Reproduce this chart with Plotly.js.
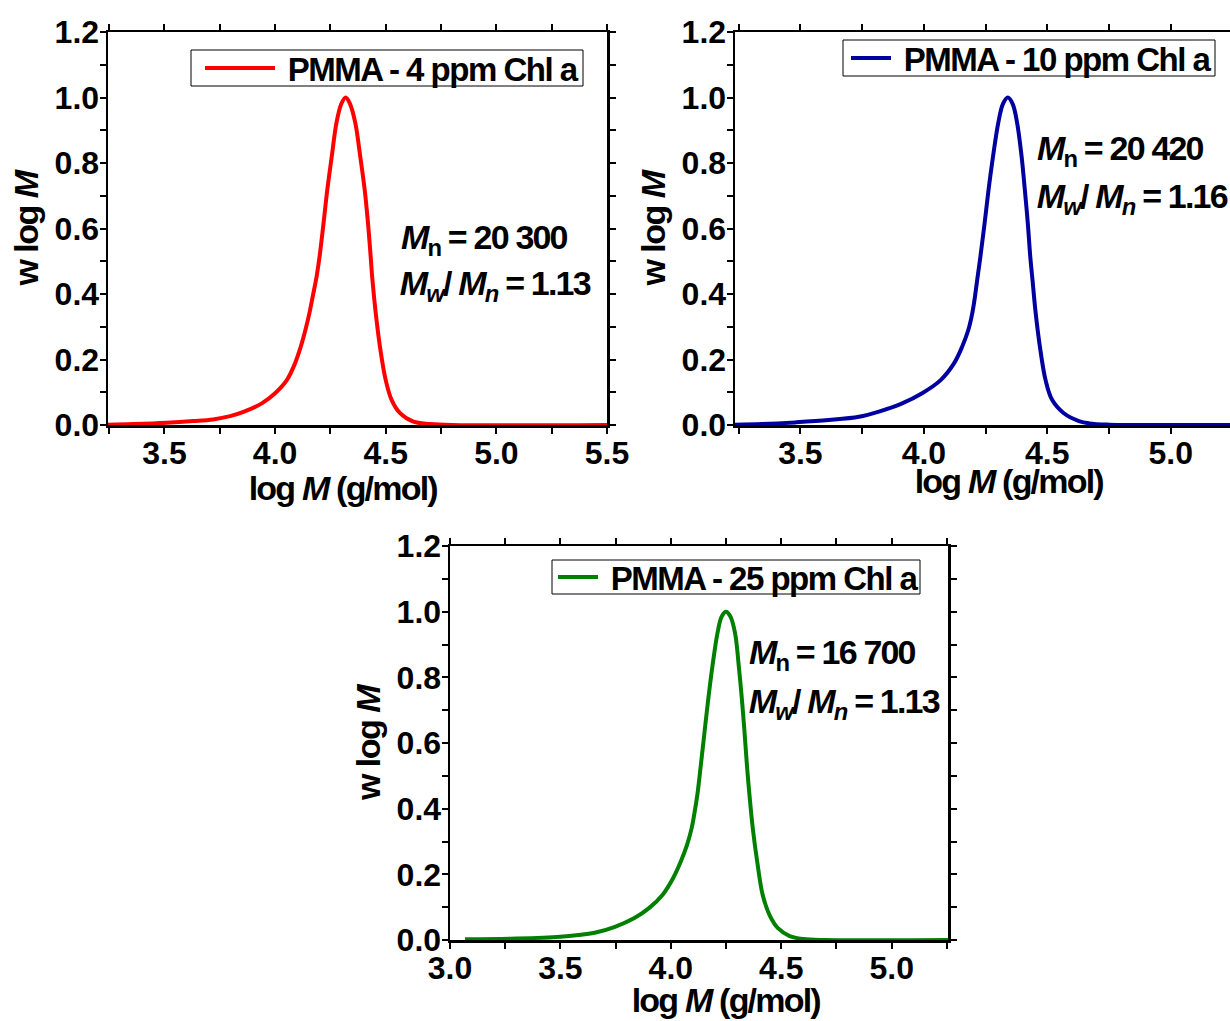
<!DOCTYPE html>
<html>
<head>
<meta charset="utf-8">
<script src="https://cdn.plot.ly/plotly-3.0.1.min.js"></script>
<style>
html,body{margin:0;padding:0;background:#fff;}
#chart{width:1230px;height:1021px;}
#chart text.legendtext{letter-spacing:-1.5px !important;}
#chart g[class*="legend"] text{letter-spacing:-1.5px !important;}
#chart text.annotation-text{letter-spacing:-1.8px !important;}
#chart .ytitle, #chart .y2title, #chart .y3title{letter-spacing:-1.5px;}
</style>
</head>
<body>
<div id="chart"></div>
<script>
// ---- data ----
const seriesNames = ["PMMA - 4 ppm Chl a", "PMMA - 10 ppm Chl a", "PMMA - 25 ppm Chl a"];
const seriesColors = ["#ff0000", "#0000a0", "#008000"];

const red_logM = [3.245,3.36,3.51,3.63,3.72,3.797,3.857,3.94,4.0,4.053,4.09,4.116,4.137,4.155,4.17,4.185,4.201,4.219,4.236,4.256,4.277,4.299,4.319,4.339,4.363,4.385,4.405,4.42,4.432,4.44,4.455,4.474,4.50,4.527,4.565,4.625,4.70,4.8,5.5];
const red_w    = [0.001,0.003,0.007,0.012,0.017,0.027,0.04,0.066,0.097,0.137,0.188,0.239,0.29,0.341,0.392,0.443,0.514,0.616,0.718,0.819,0.921,0.98,1.0,0.98,0.921,0.819,0.718,0.616,0.514,0.443,0.341,0.239,0.137,0.076,0.036,0.01,0.003,0.0,0.0];

const blue_logM = [3.235,3.345,3.48,3.615,3.737,3.818,3.912,3.993,4.068,4.122,4.155,4.18,4.196,4.207,4.216,4.229,4.246,4.262,4.28,4.301,4.32,4.34,4.36,4.378,4.396,4.409,4.421,4.431,4.44,4.453,4.47,4.493,4.52,4.567,4.628,4.67,4.75,4.85,5.24];
const blue_w    = [0.001,0.003,0.008,0.015,0.025,0.041,0.066,0.097,0.137,0.188,0.239,0.29,0.341,0.392,0.443,0.514,0.616,0.718,0.819,0.921,0.98,1.0,0.98,0.921,0.819,0.718,0.616,0.514,0.443,0.341,0.239,0.137,0.076,0.036,0.012,0.005,0.001,0.0,0.0];

const green_logM = [3.068,3.273,3.5,3.655,3.75,3.833,3.901,3.962,4.01,4.045,4.073,4.094,4.108,4.12,4.135,4.152,4.169,4.188,4.211,4.23,4.25,4.27,4.291,4.308,4.322,4.334,4.345,4.356,4.371,4.391,4.416,4.447,4.485,4.538,4.6,4.7,5.255];
const green_w    = [0.002,0.004,0.01,0.022,0.041,0.066,0.097,0.137,0.188,0.239,0.289,0.34,0.391,0.442,0.528,0.63,0.731,0.832,0.934,0.985,1.0,0.985,0.934,0.832,0.731,0.63,0.528,0.442,0.34,0.239,0.137,0.076,0.036,0.012,0.003,0.0,0.0];

const MnLabels = ["20 300", "20 420", "16 700"];
const PDILabels = ["1.13", "1.16", "1.13"];
const xTitle = "log <i>M</i> (g/mol)";
const yTitle = "w log <i>M</i>";
const xRanges = [[3.245, 5.5], [3.235, 5.24], [3.0, 5.255]];
const yRange = [0, 1.2];

// ---- layout helpers ----
const W = 1230, H = 1021;
const px = v => v / W;
const py = v => 1 - v / H;
const FONT = "Liberation Sans, Arial, sans-serif";

// panel frames (pixels): left, right, top, bottom
const frames = [[108, 607, 32, 425], [735, 1230, 32, 425], [450, 948, 546, 940]];
const legendBoxes = [[191, 583, 50, 86], [843, 1215, 40, 76], [552, 920, 560, 594]];
const legendX = [200, 846, 553];
const legendItemWidth = [70, 40, 40];
// annotation anchors: [x line1, y line1, x line2, y line2] (x compensates condensed text)
const annPos = [[389, 239, 386, 286], [1025, 150, 1023, 198], [737, 654, 735, 703]];
const xTitlePos = [[343, 488], [1009, 481], [726, 1000]];

const xs = [red_logM, blue_logM, green_logM];
const ys = [red_w, blue_w, green_w];

const data = [];
for (let i = 0; i < 3; i++) {
  data.push({
    x: xs[i], y: ys[i], type: "scatter", mode: "lines",
    name: "<b>\u00a0" + seriesNames[i] + "</b>",
    line: {color: seriesColors[i], width: 4, shape: "spline", smoothing: 1},
    xaxis: i === 0 ? "x" : "x" + (i + 1),
    yaxis: i === 0 ? "y" : "y" + (i + 1),
    legend: i === 0 ? "legend" : "legend" + (i + 1),
    showlegend: true
  });
}

const layout = {
  width: W, height: H,
  margin: {l: 0, r: 0, t: 0, b: 0, autoexpand: false},
  paper_bgcolor: "#fff", plot_bgcolor: "#fff",
  font: {family: FONT, color: "#000", size: 32},
  annotations: [], shapes: []
};

for (let i = 0; i < 3; i++) {
  const f = frames[i];
  const sx = i === 0 ? "" : String(i + 1);
  const axCommon = {
    showline: true, linecolor: "#000", linewidth: 2.5, mirror: "allticks",
    ticks: "outside", ticklen: 6, tickwidth: 2, tickcolor: "#000",
    showgrid: false, zeroline: false, automargin: false,
    tickfont: {family: FONT, size: 32, color: "#000", weight: "bold"},
    minor: {ticks: "outside", ticklen: 6, tickwidth: 2, tickcolor: "#000", showgrid: false}
  };
  layout["xaxis" + sx] = Object.assign({}, axCommon, {
    domain: [px(f[0]), px(f[1])],
    anchor: "y" + sx,
    range: xRanges[i],
    dtick: 0.5, tick0: 0, tickformat: ".1f",
    ticklabelstandoff: -8,
    minor: Object.assign({}, axCommon.minor, {dtick: 0.25})
  });
  layout["yaxis" + sx] = Object.assign({}, axCommon, {
    domain: [py(f[3]), py(f[2])],
    anchor: "x" + sx,
    range: yRange,
    dtick: 0.2, tick0: 0, tickformat: ".1f",
    ticklabelstandoff: -6,
    minor: Object.assign({}, axCommon.minor, {dtick: 0.1}),
    title: {text: "<b>" + yTitle + "</b>", font: {family: FONT, size: 34, color: "#000"}, standoff: 6}
  });
  // x-axis title (placed where the reference draws it)
  layout.annotations.push({
    xref: "paper", yref: "paper", x: px(xTitlePos[i][0]), y: py(xTitlePos[i][1]),
    xanchor: "center", yanchor: "middle", showarrow: false,
    text: "<b>" + xTitle + "</b>",
    font: {family: FONT, size: 34, color: "#000"}
  });
  // legend with a thin frame drawn as a box
  const b = legendBoxes[i];
  layout.shapes.push({
    type: "rect", xref: "paper", yref: "paper", layer: "above",
    x0: px(b[0]), x1: px(b[1]), y0: py(b[3]), y1: py(b[2]),
    line: {color: "#000", width: 1}, fillcolor: "#fff"
  });
  const lgKey = i === 0 ? "legend" : "legend" + (i + 1);
  layout[lgKey] = {
    x: px(legendX[i]), y: py((b[2] + b[3]) / 2), xanchor: "left", yanchor: "middle",
    bgcolor: "rgba(0,0,0,0)", borderwidth: 0,
    font: {family: FONT, size: 33, color: "#000"},
    itemwidth: legendItemWidth[i], tracegroupgap: 0
  };
}

for (let i = 0; i < 3; i++) {
  layout.annotations.push({
    xref: "paper", yref: "paper", x: px(annPos[i][0]), y: py(annPos[i][1]),
    xanchor: "left", yanchor: "middle", showarrow: false,
    text: "<b><i>M</i><sub>n</sub> = " + MnLabels[i] + "</b>",
    font: {family: FONT, size: 34, color: "#000"}
  });
  layout.annotations.push({
    xref: "paper", yref: "paper", x: px(annPos[i][2]), y: py(annPos[i][3]),
    xanchor: "left", yanchor: "middle", showarrow: false,
    text: "<b><i>M</i><sub><i>w</i></sub>/ <i>M</i><sub><i>n</i></sub> = " + PDILabels[i] + "</b>",
    font: {family: FONT, size: 34, color: "#000"}
  });
}

Plotly.newPlot("chart", data, layout, {staticPlot: true, displayModeBar: false});
</script>
</body>
</html>
